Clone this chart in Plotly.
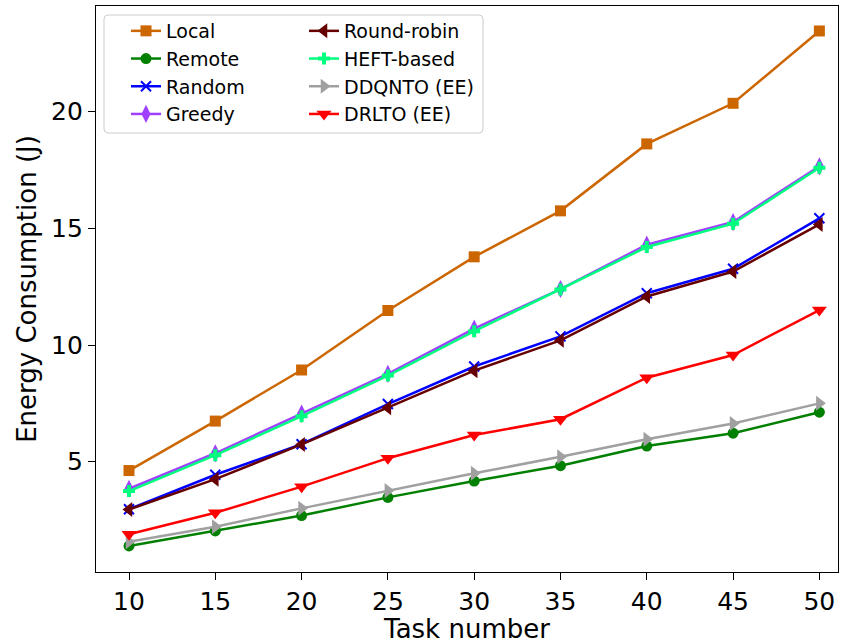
import plotly.graph_objects as go

tasks = [10, 15, 20, 25, 30, 35, 40, 45, 50]
local = [4.62, 6.74, 8.93, 11.48, 13.78, 15.75, 18.62, 20.36, 23.46]
remote = [1.39, 2.03, 2.69, 3.47, 4.17, 4.83, 5.67, 6.22, 7.12]
random_ = [2.96, 4.44, 5.75, 7.47, 9.08, 10.37, 12.22, 13.27, 15.43]
greedy = [3.84, 5.36, 7.06, 8.76, 10.70, 12.40, 14.30, 15.27, 17.66]
round_robin = [2.95, 4.25, 5.74, 7.31, 8.90, 10.20, 12.08, 13.15, 15.17]
heft = [3.74, 5.28, 6.95, 8.69, 10.59, 12.38, 14.20, 15.20, 17.60]
ddqnto = [1.57, 2.21, 3.00, 3.76, 4.50, 5.21, 5.96, 6.64, 7.50]
drlto = [1.89, 2.81, 3.93, 5.15, 6.14, 6.82, 8.60, 9.57, 11.50]

x_ticks = [10, 15, 20, 25, 30, 35, 40, 45, 50]
y_ticks = [5, 10, 15, 20]

series = [
    ("Local", local, "#cc6600", "square", 11, "legend"),
    ("Remote", remote, "#008000", "circle", 11, "legend"),
    ("Random", random_, "#0000ff", "x-thin", 10, "legend"),
    ("Greedy", greedy, "#a040ff", "diamond-tall", 13, "legend"),
    ("Round-robin", round_robin, "#660000", "triangle-left", 13, "legend2"),
    ("HEFT-based", heft, "#00ff7f", "cross", 10, "legend2"),
    ("DDQNTO (EE)", ddqnto, "#a0a0a0", "triangle-right", 13, "legend2"),
    ("DRLTO (EE)", drlto, "#ff0000", "triangle-down", 13, "legend2"),
]

W, H = 843, 644
L, R, T, B = 96, 5, 6, 72
pw, ph = W - L - R, H - T - B

def px(xp):
    return (xp - L) / pw

def py(yp):
    return (H - B - yp) / ph

fig = go.Figure()
for name, vals, color, sym, size, leg in series:
    marker = dict(symbol=sym, size=size, color=color,
                  line=dict(width=2 if sym == "x-thin" else 0, color=color))
    fig.add_trace(go.Scatter(
        x=tasks, y=vals, name=name, mode="lines+markers",
        line=dict(color=color, width=2.5), marker=marker, legend=leg,
    ))

# legend frame
x0, x1, y0, y1 = px(104), px(483), py(133), py(15)
rx, ry = 4 / pw, 4 / ph
path = (f"M{x0+rx},{y0} L{x1-rx},{y0} Q{x1},{y0} {x1},{y0+ry} "
        f"L{x1},{y1-ry} Q{x1},{y1} {x1-rx},{y1} L{x0+rx},{y1} "
        f"Q{x0},{y1} {x0},{y1-ry} L{x0},{y0+ry} Q{x0},{y0} {x0+rx},{y0} Z")
fig.add_shape(type="path", path=path, xref="paper", yref="paper",
              line=dict(color="#cccccc", width=1), fillcolor="white", layer="above")

legfont = dict(family="DejaVu Sans", size=19, color="black")
fig.update_layout(
    width=W, height=H,
    margin=dict(l=L, r=R, t=T, b=B, autoexpand=False),
    paper_bgcolor="white", plot_bgcolor="white",
    font=dict(family="DejaVu Sans", size=25, color="black"),
    showlegend=True,
    legend=dict(x=px(126), y=py(12), xanchor="left", yanchor="top",
                bgcolor="rgba(0,0,0,0)", borderwidth=0, font=legfont,
                itemwidth=30, tracegroupgap=0),
    legend2=dict(x=px(304), y=py(12), xanchor="left", yanchor="top",
                 bgcolor="rgba(0,0,0,0)", borderwidth=0, font=legfont,
                 itemwidth=30, tracegroupgap=0),
)
fig.update_xaxes(
    range=[8.088, 51.08], tickvals=x_ticks, ticktext=[str(v) for v in x_ticks],
    showline=True, linecolor="black", linewidth=1.3, mirror=True,
    ticks="outside", ticklen=7, tickwidth=1.3, tickcolor="black",
    showgrid=False, zeroline=False, automargin=False,
    title=dict(text="Task number", standoff=3, font=dict(size=26)),
    tickfont=dict(size=25),
)
fig.update_yaxes(
    range=[0.272, 24.53], tickvals=y_ticks, ticktext=[str(v) for v in y_ticks],
    showline=True, linecolor="black", linewidth=1.3, mirror=True,
    ticks="outside", ticklen=7, tickwidth=1.3, tickcolor="black",
    showgrid=False, zeroline=False, automargin=False,
    title=dict(text="Energy Consumption (J)", standoff=6, font=dict(size=26)),
    tickfont=dict(size=25),
)

fig.write_html("out.html", config={"displayModeBar": False},
               post_script="document.body.style.margin='0';")
